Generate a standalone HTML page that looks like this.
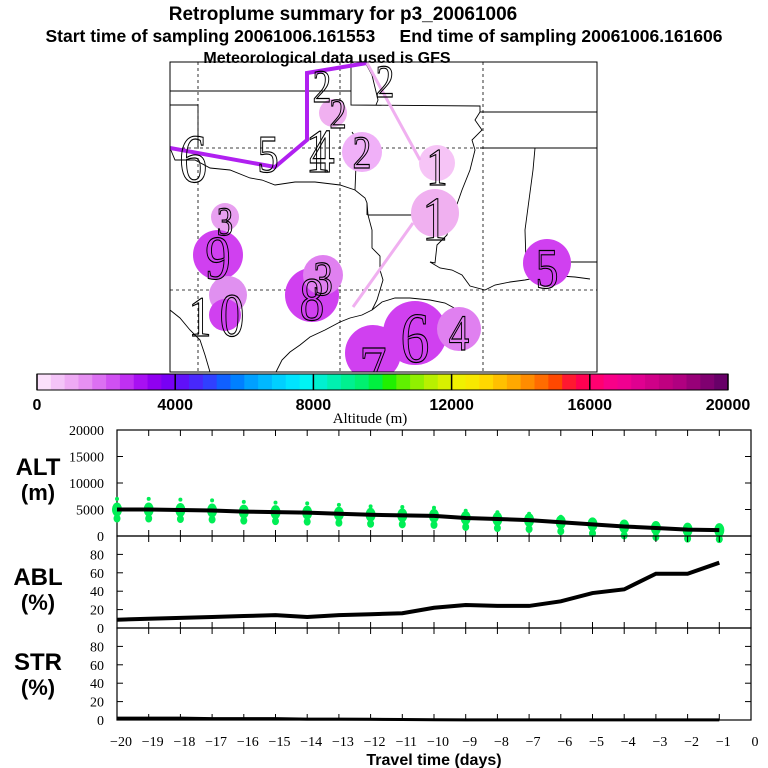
<!DOCTYPE html>
<html><head><meta charset="utf-8"><style>
body{margin:0;background:#fff;}
svg{display:block;font-family:"Liberation Sans",sans-serif;}
</style></head><body>
<svg id="fig" width="768" height="768" viewBox="0 0 768 768" xmlns="http://www.w3.org/2000/svg">
<text x="343" y="20" text-anchor="middle" font-weight="bold" font-size="19">Retroplume summary for p3_20061006</text>
<text x="384" y="42" text-anchor="middle" font-weight="bold" font-size="17.5" xml:space="preserve">Start time of sampling 20061006.161553     End time of sampling 20061006.161606</text>
<text x="327" y="63" text-anchor="middle" font-weight="bold" font-size="16">Meteorological data used is GFS</text>
<g id="map"></g>
<g id="cbar"></g>
<g id="panels"></g>
</svg>
<script>
const NS="http://www.w3.org/2000/svg";
function mk(parent,tag,attrs,txt){const e=document.createElementNS(NS,tag);for(const k in attrs)e.setAttribute(k,attrs[k]);if(txt!==undefined)e.textContent=txt;parent.appendChild(e);return e;}

// ---- data ----
const days=[-20,-19,-18,-17,-16,-15,-14,-13,-12,-11,-10,-9,-8,-7,-6,-5,-4,-3,-2,-1];
const altValues=[5000,5000,4900,4800,4600,4500,4400,4200,4000,3900,3800,3400,3200,3000,2600,2200,1800,1500,1200,1100];
const ablValues=[9,10,11,12,13,14,12,14,15,16,22,25,24,24,29,38,42,59,59,71];
const strValues=[2,2,2,1.5,1.5,1.5,1,1,0.8,0.5,0.3,0.2,0.2,0.2,0.2,0.2,0.2,0.2,0.2,0.2];
const xTickLabels=["−20","−19","−18","−17","−16","−15","−14","−13","−12","−11","−10","−9","−8","−7","−6","−5","−4","−3","−2","−1","0"];
const altTicks=[0,5000,10000,15000,20000];
const pctTicks=[0,20,40,60,80];
const cbarTicks=[0,4000,8000,12000,16000,20000];
const cbarColors=["#fbe0fb","#f4c4f8","#eeaaf4","#e690f2","#dc70f2","#d050f2","#c030f2","#a810f2","#9000f0","#7800f4","#6010f8","#4828fc","#3040ff","#1060ff","#0080ff","#00a0ff","#00b8ff","#00d0ff","#00e4ff","#00f4f4","#00f0d0","#00f0b0","#00f090","#00f070","#00f040","#20f000","#60f000","#90f000","#b8f000","#d8f000","#f0f000","#f8e800","#ffd800","#ffc000","#ffa800","#ff8c00","#ff6c00","#ff4800","#ff1830","#ff0050","#ff0070","#f80088","#f00090","#e00090","#d00088","#c00080","#b00080","#980078","#800070","#680068"];

// ---- map ----
const map=document.getElementById('map');
const MX0=170,MY0=62,MX1=597,MY1=372;
mk(map,'defs',{}).innerHTML='<clipPath id="mc"><rect x="170" y="62" width="427" height="310"/></clipPath>';
const mg=mk(map,'g',{'clip-path':'url(#mc)'});
[198,340,483].forEach(x=>{const l=mk(mg,'line',{x1:x,y1:MY0,x2:x,y2:MY1,stroke:'#000','stroke-dasharray':'3,3','stroke-width':0.8});});
[148,290].forEach(y=>{const l=mk(mg,'line',{x1:MX0,y1:y,x2:MX1,y2:y,stroke:'#000','stroke-dasharray':'3,3','stroke-width':0.8});});
const borders=["M170,91 L351,91","M170,105 L198,105 L198,148","M351,62 L351,105 L480,106 L480,112 L597,112","M480,112 L475,120 L482,130 L472,140 L475,150 L470,170 L462,190 L455,210 L450,220 L447,235 L437,245 L435,263 L430,262","M480,148 L597,148","M535,148 L533,170 L525,230 L526,262 L597,262","M367,203 L368,215 L437,215","M368,215 L372,230 L372,248 L380,256 L380,270 L383,280 L377,300 L372,310","M170,148 L175,160 L195,160 L210,168 L230,170 L250,178 L262,180 L275,185 L295,182 L315,182 L340,185 L355,190 L365,198 L367,203 L367,215","M352,132 L357,140 L355,190",
"M430,262 L440,268 L452,270 L462,275 L470,286 L485,290 L495,285 L510,282 L525,280 L545,276 L560,276 L575,277 L590,279","M372,310 L382,302 L395,298 L410,298 L430,300 L445,303 L458,310 L465,310",
"M372,310 L362,315 L350,318 L340,322 L325,330 L310,337 L300,345 L290,352 L282,360 L276,372",
"M170,310 L180,318 L190,330 L200,340 L205,355 L210,372",
"M365,62 L372,75 L378,100 L376,105"];
borders.forEach(d=>{const p=mk(mg,'path',{d:d,fill:'none',stroke:'#000','stroke-width':0.9});});
const circles=[[333,113,14,"#f0b0f0"],[362,152,20,"#f0b0f8"],[437,163,18,"#f6c4f6"],[435,213,24,"#f0b0f0"],[225,217,14,"#e8a0f0"],[218,255,25,"#d040f0"],[228,295,19,"#e090f0"],[225,315,16,"#d040f0"],[312,295,27,"#d040f0"],[323,275,20,"#e080f0"],[547,263,24,"#d040f0"],[415,333,32,"#d040f0"],[373,353,28,"#d040f0"],[459,329,22,"#e080f0"]];
circles.forEach(c=>{const e=mk(mg,'circle',{cx:c[0],cy:c[1],r:c[2],fill:c[3]});});
const t1=mk(mg,'polyline',{points:"170,148 275,167 307,140 307,73 367,63",fill:'none',stroke:'#b020f0','stroke-width':4});

const t2=mk(mg,'polyline',{points:"367,63 420,160",fill:'none',stroke:'#f0b0f0','stroke-width':3});

const t3=mk(mg,'polyline',{points:"413,223 353,307",fill:'none',stroke:'#f0b0f0','stroke-width':3});

const nums=[["6",193,182,66],["5",268,172,50],["4",322,172,60],["1",318,172,58],["2",322,102,44],["2",338,128,40],["2",362,168,44],["2",385,97,44],["1",437,185,50],["1",435,240,60],["3",225,235,38],["9",218,279,60],["1",200,336,54],["0",232,336,58],["8",312,320,58],["3",323,295,46],["5",547,288,54],["6",415,362,68],["7",373,392,64],["4",459,350,48]];
nums.forEach(n=>{const t=mk(mg,'text',{x:n[1],y:n[2],'text-anchor':'middle','font-family':'"Liberation Serif",serif','font-size':n[3],fill:'none',stroke:'#000','stroke-width':1.1,transform:`translate(${n[1]} ${n[2]}) scale(0.85 1.05) translate(${-n[1]} ${-n[2]})`},n[0]);});
mk(map,'rect',{x:MX0,y:MY0,width:MX1-MX0,height:MY1-MY0,fill:'none',stroke:'#000','stroke-width':1});

// ---- colorbar ----
const cb=document.getElementById('cbar');
const CX0=37,CX1=728,CY=374,CH=16;
const cx=v=>CX0+(v/20000)*(CX1-CX0);
cbarColors.forEach((c,i)=>{const w=(CX1-CX0)/cbarColors.length;const r=mk(cb,'rect',{x:CX0+i*w,y:CY,width:w+0.5,height:CH,fill:c});});
mk(cb,'rect',{x:CX0,y:CY,width:CX1-CX0,height:CH,fill:'none',stroke:'#000','stroke-width':1});
cbarTicks.forEach(v=>{mk(cb,'line',{x1:cx(v),y1:CY,x2:cx(v),y2:CY+CH,stroke:'#000','stroke-width':1.5});
const t=mk(cb,'text',{x:cx(v),y:410,'text-anchor':'middle','font-weight':'bold','font-size':16},String(v));});
const at=mk(cb,'text',{x:370,y:423,'text-anchor':'middle','font-family':'"Liberation Serif",serif','font-size':15},'Altitude (m)');


// ---- panels ----
const pg=document.getElementById('panels');
const PX0=117,PX1=751;
const xs=d=>PX1+d*(PX1-PX0)/20;
function panel(name,top,bot,maxv,ticks,vals,lab1,lab2,labY){
  const ys=v=>bot-(v/maxv)*(bot-top);
  const g=mk(pg,'g',{});
  
  mk(g,'rect',{x:PX0,y:top,width:PX1-PX0,height:bot-top,fill:'none',stroke:'#000','stroke-width':1.2});
  xTickLabels.forEach((l,i)=>{const x=xs(-20+i);mk(g,'line',{x1:x,y1:top,x2:x,y2:top+6,stroke:'#000'});mk(g,'line',{x1:x,y1:bot,x2:x,y2:bot-6,stroke:'#000'});});
  ticks.forEach(v=>{const y=ys(v);mk(g,'line',{x1:PX0,y1:y,x2:PX0+6,y2:y,stroke:'#000'});mk(g,'line',{x1:PX1,y1:y,x2:PX1-6,y2:y,stroke:'#000'});
    const t=mk(g,'text',{x:104,y:y+5,'text-anchor':'end','font-family':'"Liberation Serif",serif','font-size':14},String(v));});
  const a=mk(g,'text',{x:38,y:labY,'text-anchor':'middle','font-weight':'bold','font-size':24},lab1);
  const b=mk(g,'text',{x:38,y:labY+25,'text-anchor':'middle','font-weight':'bold','font-size':22},lab2);
  return {g,ys};
}
const alt=panel('alt',430,536,20000,altTicks,altValues,'ALT','(m)',475);
altValues.forEach((v,i)=>{const x=xs(days[i]);
  const e=mk(alt.g,'ellipse',{cx:x,cy:alt.ys(v),rx:5,ry:7,fill:'#00ee55'});
  const e2=mk(alt.g,'ellipse',{cx:x,cy:alt.ys(v)+9,rx:3.5,ry:4,fill:'#00ee55'});
  const e3=mk(alt.g,'ellipse',{cx:x,cy:alt.ys(v*1.4),rx:2,ry:2,fill:'#00ee55'});});
const altLine=mk(alt.g,'polyline',{points:altValues.map((v,i)=>xs(days[i])+','+alt.ys(v)).join(' '),fill:'none',stroke:'#000','stroke-width':4});

const abl=panel('abl',536,628,100,pctTicks,ablValues,'ABL','(%)',585);
const ablLine=mk(abl.g,'polyline',{points:ablValues.map((v,i)=>xs(days[i])+','+abl.ys(v)).join(' '),fill:'none',stroke:'#000','stroke-width':4});

const str=panel('str',628,720,100,pctTicks,strValues,'STR','(%)',670);
const strLine=mk(str.g,'polyline',{points:strValues.map((v,i)=>xs(days[i])+','+str.ys(v)).join(' '),fill:'none',stroke:'#000','stroke-width':3});

xTickLabels.forEach((l,i)=>{const t=mk(pg,'text',{x:xs(-20+i)+4,y:746,'text-anchor':'middle','font-family':'"Liberation Serif",serif','font-size':14},l);
});
const xt=mk(pg,'text',{x:434,y:765,'text-anchor':'middle','font-weight':'bold','font-size':16},'Travel time (days)');

</script>
</body></html>
